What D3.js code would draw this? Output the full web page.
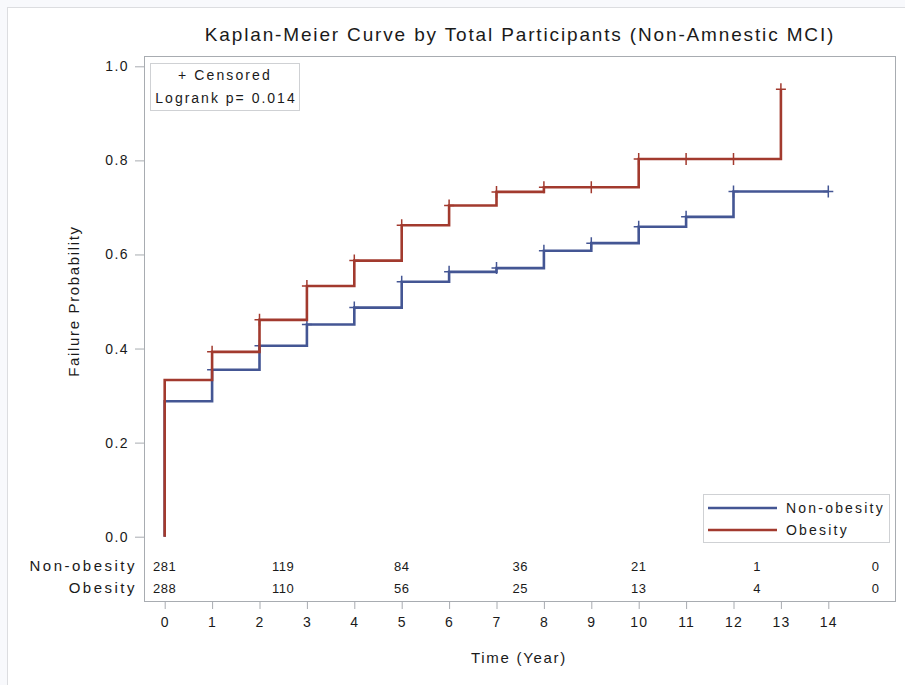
<!DOCTYPE html>
<html>
<head>
<meta charset="utf-8">
<script src="https://cdn.jsdelivr.net/npm/d3@7"></script>
<style>
  html, body { margin: 0; padding: 0; background: #f8f9fc; }
  svg { display: block; }
  text { font-family: "Liberation Sans", Arial, sans-serif; fill: #1a1a1a; }
</style>
</head>
<body>
<script>
// ---- data ----
const seriesNames = ["Non-obesity", "Obesity"];
const nonObesityTimes  = [0, 0, 1, 2, 3, 4, 5, 6, 7, 8, 9, 10, 11, 12, 14];
const nonObesityValues = [0, 0.288, 0.355, 0.406, 0.451, 0.487, 0.542, 0.563, 0.571, 0.608, 0.624, 0.659, 0.680, 0.734, 0.734];
const nonObesityCensor = [1, 2, 3, 4, 5, 6, 7, 8, 9, 10, 11, 12, 14];
const obesityTimes  = [0, 0, 1, 2, 3, 4, 5, 6, 7, 8, 9, 10, 11, 12, 13];
const obesityValues = [0, 0.333, 0.393, 0.461, 0.533, 0.587, 0.662, 0.704, 0.733, 0.743, 0.743, 0.803, 0.803, 0.803, 0.951];
const obesityCensor = [1, 2, 3, 4, 5, 6, 7, 8, 9, 10, 11, 12, 13];
const xTicks = [0, 1, 2, 3, 4, 5, 6, 7, 8, 9, 10, 11, 12, 13, 14];
const yTicks = [0, 0.2, 0.4, 0.6, 0.8, 1.0];
const atRiskTimes = [0, 2.5, 5, 7.5, 10, 12.5, 15];
const nonObesityAtRisk = [281, 119, 84, 36, 21, 1, 0];
const obesityAtRisk = [288, 110, 56, 25, 13, 4, 0];
const titleText = "Kaplan-Meier Curve by Total Participants (Non-Amnestic MCI)";
const pValueText = "Logrank p= 0.014";

// ---- layout ----
const W = 905, H = 685;
const colors = ["#445694", "#A23A2E"];
const frame = {l: 144, t: 56, r: 896, b: 601};

const svg = d3.select("body").append("svg").attr("width", W).attr("height", H);
svg.append("rect").attr("x", 7.5).attr("y", 7.5).attr("width", W).attr("height", H)
  .attr("fill", "#ffffff").attr("stroke", "#dcdde0");

const x = d3.scaleLinear().domain([0, 14]).range([164.7, 828.3]);
const y = d3.scaleLinear().domain([0, 1]).range([536.7, 66.3]);

// title
svg.append("text").attr("x", 520).attr("y", 41).attr("text-anchor", "middle")
  .style("font-size", "19px").style("letter-spacing", "1.85px").text(titleText);

// frame
svg.append("rect").attr("x", frame.l + 0.5).attr("y", frame.t + 0.5)
  .attr("width", frame.r - frame.l - 1).attr("height", frame.b - frame.t)
  .attr("fill", "none").attr("stroke", "#a8acb1");

// y axis
const yAxis = svg.append("g").attr("transform", `translate(${frame.l},0)`)
  .call(d3.axisLeft(y).tickValues(yTicks).tickFormat(d3.format(".1f")).tickSize(9).tickPadding(6));
yAxis.select(".domain").remove();
yAxis.selectAll("line").attr("stroke", "#a8acb1");
yAxis.selectAll("text").style("font-size", "14px").style("letter-spacing", "1.4px")
  .style("font-family", "'Liberation Sans', Arial, sans-serif").attr("fill", "#1a1a1a");

// x axis
const xAxis = svg.append("g").attr("transform", `translate(0,${frame.b})`)
  .call(d3.axisBottom(x).tickValues(xTicks).tickFormat(d3.format("d")).tickSize(8).tickPadding(8));
xAxis.select(".domain").remove();
xAxis.selectAll("line").attr("stroke", "#a8acb1");
xAxis.selectAll("text").style("font-size", "14px").style("letter-spacing", "1.2px")
  .style("font-family", "'Liberation Sans', Arial, sans-serif").attr("fill", "#1a1a1a");

// axis titles
svg.append("text").attr("x", 519).attr("y", 663).attr("text-anchor", "middle")
  .style("font-size", "15px").style("letter-spacing", "1.7px").text("Time (Year)");
svg.append("text").attr("transform", "translate(79,301) rotate(-90)").attr("text-anchor", "middle")
  .style("font-size", "15px").style("letter-spacing", "1.65px").text("Failure Probability");

// curves
const line = d3.line().x(d => x(d[0])).y(d => y(d[1])).curve(d3.curveStepAfter);
const series = [
  {times: nonObesityTimes, values: nonObesityValues, censor: nonObesityCensor},
  {times: obesityTimes, values: obesityValues, censor: obesityCensor}
];
function valueAt(s, t) {
  let v = 0;
  s.times.forEach((tt, i) => { if (tt <= t) v = s.values[i]; });
  return v;
}
series.forEach((s, i) => {
  const pts = s.times.map((t, j) => [t, s.values[j]]);
  svg.append("path").attr("d", line(pts)).attr("fill", "none")
    .attr("stroke", colors[i]).attr("stroke-width", 2.6).attr("stroke-linejoin", "miter");
  const g = svg.append("g");
  s.censor.forEach(t => {
    const cx = x(t), cy = y(valueAt(s, t));
    g.append("path").attr("d", `M${cx - 5},${cy}H${cx + 5}M${cx},${cy - 6}V${cy + 6}`)
      .attr("stroke", colors[i]).attr("stroke-width", 1.5).attr("fill", "none");
  });
});

// inset box
svg.append("rect").attr("x", 150.5).attr("y", 63.5).attr("width", 149).attr("height", 47)
  .attr("fill", "#fff").attr("stroke", "#cfd1d4");
svg.append("text").attr("x", 225).attr("y", 80).attr("text-anchor", "middle")
  .style("font-size", "14px").style("letter-spacing", "2.1px").text("+ Censored");
svg.append("text").attr("x", 226).attr("y", 103).attr("text-anchor", "middle")
  .style("font-size", "14px").style("letter-spacing", "2px").text(pValueText);

// legend
const lg = svg.append("g");
lg.append("rect").attr("x", 703.5).attr("y", 494.5).attr("width", 186).attr("height", 48)
  .attr("fill", "#fff").attr("stroke", "#cfd1d4");
seriesNames.forEach((n, i) => {
  const ly = 508 + i * 22;
  lg.append("line").attr("x1", 708).attr("x2", 777).attr("y1", ly).attr("y2", ly)
    .attr("stroke", colors[i]).attr("stroke-width", 2.6);
  lg.append("text").attr("x", 786).attr("y", ly).attr("dy", "0.35em")
    .style("font-size", "14px").style("letter-spacing", "2.2px").text(n);
});

// at-risk table
const rows = [nonObesityAtRisk, obesityAtRisk];
rows.forEach((r, i) => {
  const ry = 566 + i * 22;
  svg.append("text").attr("x", 137).attr("y", ry).attr("dy", "0.35em").attr("text-anchor", "end")
    .style("font-size", "15px").style("letter-spacing", "2.5px").text(seriesNames[i]);
  r.forEach((v, j) => {
    svg.append("text").attr("x", x(atRiskTimes[j])).attr("y", ry).attr("dy", "0.35em")
      .attr("text-anchor", "middle").style("font-size", "13px").style("letter-spacing", "0.5px").text(v);
  });
});
</script>
</body>
</html>
